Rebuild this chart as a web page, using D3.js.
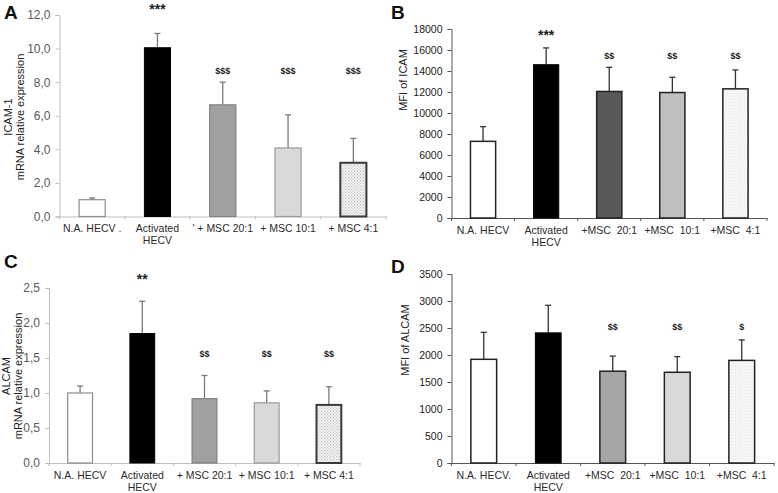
<!DOCTYPE html>
<html><head><meta charset="utf-8">
<script src="https://cdn.jsdelivr.net/npm/d3@7"></script>
<style>
html,body{margin:0;padding:0;background:#fff;}
svg{display:block;}
text{font-family:"Liberation Sans",Arial,sans-serif;}
</style></head>
<body>
<svg id="chart" width="778" height="493"></svg>
<script>
// ---------- DATA ----------
const catsA = ["N.A. HECV .", "Activated|HECV", "' + MSC 20:1", "+ MSC 10:1", "+ MSC 4:1"];
const catsB = ["N.A. HECV", "Activated|HECV", "+MSC  20:1", "+MSC  10:1", "+MSC  4:1"];
const catsC = ["N.A. HECV", "Activated|HECV", "+ MSC 20:1", "+ MSC 10:1", "+ MSC 4:1"];
const catsD = ["N.A. HECV.", "Activated|HECV", "+MSC  20:1", "+MSC  10:1", "+MSC  4:1"];

const valuesA = [1.0, 10.05, 6.65, 4.08, 3.2];
const errorsA = [0.1, 0.85, 1.35, 1.97, 1.45];
const sigA = ["", "***", "$$$", "$$$", "$$$"];
const sigLevelA = [0, 12.5, 8.7, 8.7, 8.7];
const ticksA = [0, 2, 4, 6, 8, 10, 12];

const valuesB = [7300, 14600, 12050, 11950, 12300];
const errorsB = [1400, 1600, 2300, 1450, 1800];
const sigB = ["", "***", "$$", "$$", "$$"];
const sigLevelB = [0, 17600, 15500, 15500, 15500];
const ticksB = [0, 2000, 4000, 6000, 8000, 10000, 12000, 14000, 16000, 18000];

const valuesC = [1.0, 1.85, 0.92, 0.86, 0.83];
const errorsC = [0.1, 0.46, 0.33, 0.17, 0.26];
const sigC = ["", "**", "$$", "$$", "$$"];
const sigLevelC = [0, 2.66, 1.56, 1.56, 1.56];
const ticksC = [0, 0.5, 1.0, 1.5, 2.0, 2.5];

const valuesD = [1920, 2410, 1700, 1680, 1900];
const errorsD = [500, 510, 280, 290, 380];
const sigD = ["", "", "$$", "$$", "$"];
const sigLevelD = [0, 0, 2520, 2520, 2520];
const ticksD = [0, 500, 1000, 1500, 2000, 2500, 3000, 3500];

// ---------- DRAW ----------
const svg = d3.select("#chart");
const defs = svg.append("defs");
function dotPattern(id, bg, dot) {
  const p = defs.append("pattern").attr("id", id).attr("patternUnits", "userSpaceOnUse")
    .attr("width", 3).attr("height", 3);
  p.append("rect").attr("width", 3).attr("height", 3).attr("fill", bg);
  p.append("rect").attr("x", 0).attr("y", 0).attr("width", 1).attr("height", 1).attr("fill", dot);
  p.append("rect").attr("x", 1.5).attr("y", 1.5).attr("width", 1).attr("height", 1).attr("fill", dot);
}
dotPattern("dotsA", "#f2f2f2", "#bdbdbd");
dotPattern("dotsB", "#fafafa", "#e0e0e0");

function panel(o) {
  const g = svg.append("g");
  const x = d3.scaleBand().domain(o.cats).range([o.x0, o.x1]).paddingInner(0.585).paddingOuter(0.2925);
  const y = d3.scaleLinear().domain([0, o.ymax]).range([o.y0, o.yTop]);

  // y axis
  const ya = g.append("g").attr("transform", `translate(${o.x0},0)`)
    .call(d3.axisLeft(y).tickValues(o.ticks).tickSize(4).tickPadding(5).tickFormat(o.fmt));
  ya.select(".domain").attr("stroke", o.axisColor).attr("stroke-width", 1);
  ya.selectAll(".tick line").attr("stroke", o.axisColor);
  ya.selectAll(".tick text").attr("fill", o.tickColor).attr("font-size", o.tickSize)
    .attr("font-family", o.tickFont);

  // x axis
  const xa = g.append("g").attr("transform", `translate(0,${o.y0})`)
    .call(d3.axisBottom(x).tickSize(0).tickFormat(""));
  xa.select(".domain").attr("stroke", o.axisColor);
  // boundary ticks
  const step = x.step();
  const bounds = d3.range(o.cats.length + 1).map(i => o.x0 + i * step);
  g.selectAll(".bt").data(bounds).join("line")
    .attr("x1", d => d).attr("x2", d => d).attr("y1", o.y0).attr("y2", o.y0 + 3)
    .attr("stroke", o.axisColor);

  // category labels
  o.cats.forEach((c, i) => {
    const lines = c.split("|");
    const t = g.append("text").attr("x", x(c) + x.bandwidth() / 2).attr("y", o.y0 + 15.5)
      .attr("text-anchor", "middle").attr("font-size", 10.5).attr("fill", "#2b2b2b")
      .style("white-space", "pre");
    lines.forEach((l, j) => t.append("tspan").attr("x", x(c) + x.bandwidth() / 2)
      .attr("dy", j === 0 ? 0 : 12).text(l));
  });

  // error bars
  o.values.forEach((v, i) => {
    const cx = x(o.cats[i]) + x.bandwidth() / 2;
    g.append("line").attr("x1", cx).attr("x2", cx).attr("y1", y(v)).attr("y2", y(v + o.errors[i]))
      .attr("stroke", o.errColor).attr("stroke-width", 1.3);
    g.append("line").attr("x1", cx - 3).attr("x2", cx + 3).attr("y1", y(v + o.errors[i])).attr("y2", y(v + o.errors[i]))
      .attr("stroke", o.errColor).attr("stroke-width", 1.3);
  });

  // bars
  g.selectAll(".bar").data(o.values).join("rect")
    .attr("x", (d, i) => x(o.cats[i]) + 0.5)
    .attr("width", x.bandwidth() - 1)
    .attr("y", d => y(d))
    .attr("height", d => o.y0 - y(d))
    .attr("fill", (d, i) => o.fills[i])
    .attr("stroke", (d, i) => o.strokes[i])
    .attr("stroke-width", (d, i) => o.strokeW[i]);

  // significance
  o.sig.forEach((s, i) => {
    if (!s) return;
    const cx = x(o.cats[i]) + x.bandwidth() / 2;
    const star = s.indexOf("*") >= 0;
    g.append("text").attr("x", cx).attr("y", y(o.sigLevel[i]) + (star ? 7 : 3.5))
      .attr("text-anchor", "middle").attr("font-weight", "bold")
      .attr("font-size", star ? 14 : 9).attr("fill", "#222").text(s);
  });

  // y label
  const yl = g.append("text").attr("transform", `translate(${o.ylx},${o.yly}) rotate(-90)`)
    .attr("text-anchor", "middle").attr("font-size", 11).attr("fill", "#222");
  o.ylabel.forEach((l, j) => yl.append("tspan").attr("x", 0).attr("dy", j === 0 ? 0 : 12).text(l));

  // panel letter
  svg.append("text").attr("x", o.lx).attr("y", o.ly).attr("font-size", 19).attr("font-weight", "bold")
    .attr("fill", "#111").text(o.letter);
}

const commaFmt = d => d3.format(".1f")(d).replace(".", ",");

panel({letter: "A", lx: 4, ly: 19, cats: catsA, values: valuesA, errors: errorsA, sig: sigA, sigLevel: sigLevelA,
  ticks: ticksA, ymax: 12, fmt: commaFmt, x0: 59.5, x1: 386, y0: 216.5, yTop: 15,
  axisColor: "#bfbfbf", tickColor: "#595959", tickSize: 12, tickFont: "'Open Sans',sans-serif",
  errColor: "#7a7a7a",
  fills: ["#ffffff", "#000000", "#a0a0a0", "#d9d9d9", "url(#dotsA)"],
  strokes: ["#8c8c8c", "#000000", "#808080", "#9a9a9a", "#3a3a3a"], strokeW: [1.2, 1, 1.2, 1.2, 2],
  ylabel: ["ICAM-1", "mRNA relative expression"], ylx: 12, yly: 117});

panel({letter: "B", lx: 391, ly: 19, cats: catsB, values: valuesB, errors: errorsB, sig: sigB, sigLevel: sigLevelB,
  ticks: ticksB, ymax: 18000, fmt: d3.format("d"), x0: 451.5, x1: 767, y0: 218, yTop: 29,
  axisColor: "#555", tickColor: "#222", tickSize: 10.5, tickFont: "'Liberation Sans',Arial,sans-serif",
  errColor: "#333",
  fills: ["#ffffff", "#000000", "#595959", "#bfbfbf", "url(#dotsB)"],
  strokes: ["#222", "#000", "#222", "#222", "#222"], strokeW: [1.5, 1, 1.5, 1.5, 1.5],
  ylabel: ["MFI of ICAM"], ylx: 407, yly: 80});

panel({letter: "C", lx: 4, ly: 268, cats: catsC, values: valuesC, errors: errorsC, sig: sigC, sigLevel: sigLevelC,
  ticks: ticksC, ymax: 2.5, fmt: commaFmt, x0: 49, x1: 360, y0: 463, yTop: 288,
  axisColor: "#bfbfbf", tickColor: "#595959", tickSize: 12, tickFont: "'Open Sans',sans-serif",
  errColor: "#7a7a7a",
  fills: ["#ffffff", "#000000", "#a0a0a0", "#d9d9d9", "url(#dotsA)"],
  strokes: ["#8c8c8c", "#000000", "#808080", "#9a9a9a", "#3a3a3a"], strokeW: [1.2, 1, 1.2, 1.2, 2],
  ylabel: ["ALCAM", "mRNA relative expression"], ylx: 10, yly: 376});

panel({letter: "D", lx: 391, ly: 273, cats: catsD, values: valuesD, errors: errorsD, sig: sigD, sigLevel: sigLevelD,
  ticks: ticksD, ymax: 3500, fmt: d3.format("d"), x0: 451.5, x1: 774, y0: 463, yTop: 274,
  axisColor: "#555", tickColor: "#222", tickSize: 10.5, tickFont: "'Liberation Sans',Arial,sans-serif",
  errColor: "#333",
  fills: ["#ffffff", "#000000", "#a6a6a6", "#d9d9d9", "url(#dotsB)"],
  strokes: ["#222", "#000", "#222", "#222", "#222"], strokeW: [1.5, 1, 1.5, 1.5, 1.5],
  ylabel: ["MFI of ALCAM"], ylx: 409, yly: 340});
</script>
</body></html>
